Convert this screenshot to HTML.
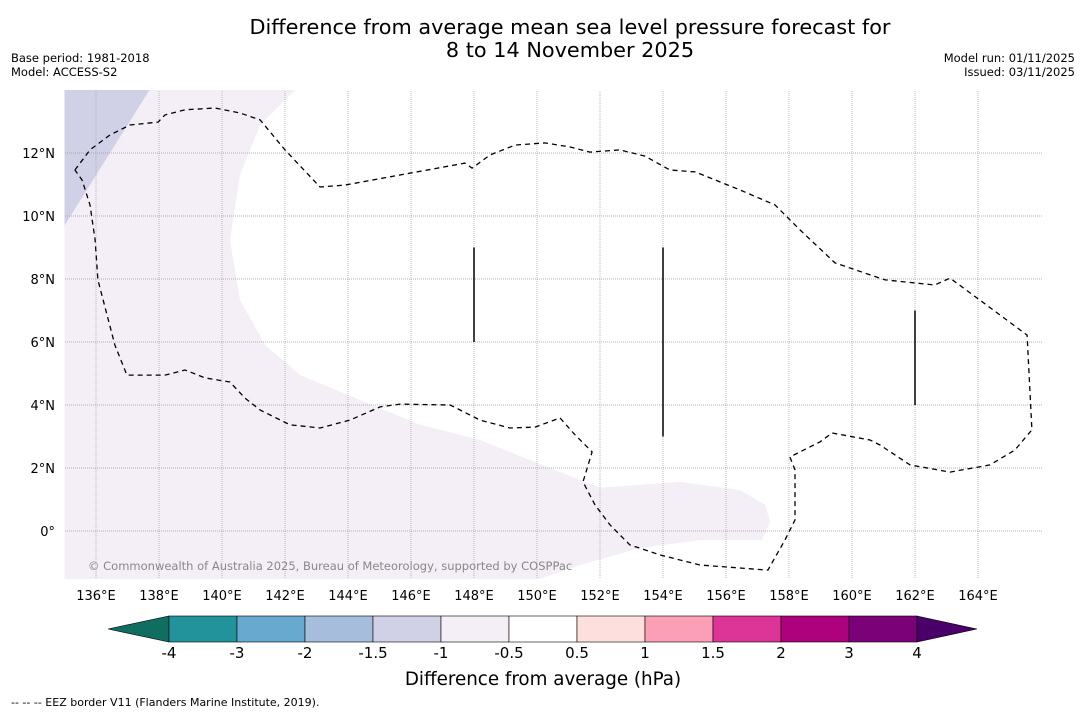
<!DOCTYPE html>
<html><head><meta charset="utf-8"><style>
body{margin:0;background:#fff;font-family:"DejaVu Sans","Liberation Sans",sans-serif;}
svg text{font-family:"DejaVu Sans","Liberation Sans",sans-serif;}
</style></head><body>
<svg id="c" width="1085" height="713" xmlns="http://www.w3.org/2000/svg">
<rect width="1085" height="713" fill="#fff"/>
<text x="570" y="34" font-size="20.8" text-anchor="middle">Difference from average mean sea level pressure forecast for</text>
<text x="570" y="57" font-size="20.8" text-anchor="middle">8 to 14 November 2025</text>
<text x="11" y="62" font-size="11.5">Base period: 1981-2018</text>
<text x="11" y="76" font-size="11.5">Model: ACCESS-S2</text>
<text x="1075" y="62" font-size="11.5" text-anchor="end">Model run: 01/11/2025</text>
<text x="1075" y="76" font-size="11.5" text-anchor="end">Issued: 03/11/2025</text>
<g id="map"></g>
<g id="cbar"></g>
<text x="543" y="685" font-size="18.3" text-anchor="middle">Difference from average (hPa)</text>
<text x="11" y="706" font-size="11">--  --  -- EEZ border V11 (Flanders Marine Institute, 2019).</text>
</svg>
<script>
const lonTicks=[136,138,140,142,144,146,148,150,152,154,156,158,160,162,164];
const latTicks=[12,10,8,6,4,2,0];
const levels=["-4","-3","-2","-1.5","-1","-0.5","0.5","1","1.5","2","3","4"];
const levelColors=["#22939a","#67a9cf","#a6bddb","#d0d1e6","#f4eef6","#ffffff","#fde0dd","#fa9fb5","#dd3497","#ae017e","#7a0177"];
const lowColor="#0f6e5f", highColor="#49006a";
const eez=[[135.33,11.46],[135.81,12.10],[136.44,12.57],[137.08,12.89],[137.97,12.98],[138.19,13.21],[138.83,13.37],[139.78,13.43],[140.57,13.27],[141.21,13.05],[142.0,12.10],[143.11,10.92],[143.90,10.98],[145.65,11.30],[147.71,11.68],[147.94,11.52],[148.51,11.94],[149.30,12.25],[150.25,12.32],[151.05,12.19],[151.68,12.03],[152.63,12.10],[153.43,11.90],[154.22,11.46],[155.02,11.40],[156.44,10.83],[157.56,10.35],[158.35,9.56],[159.46,8.51],[161.05,7.97],[162.63,7.81],[163.11,8.03],[164.06,7.33],[165.56,6.22],[165.71,3.21],[165.17,2.57],[164.38,2.10],[163.11,1.87],[161.84,2.10],[160.89,2.73],[160.57,2.89],[159.37,3.11],[158.98,2.83],[158.03,2.35],[158.19,1.94],[158.19,0.35],[157.87,-0.29],[157.33,-1.24],[155.17,-1.08],[153.90,-0.76],[152.95,-0.44],[152.32,0.19],[151.84,0.83],[151.46,1.56],[151.75,2.51],[151.21,3.05],[150.73,3.59],[149.94,3.30],[149.14,3.27],[148.19,3.52],[147.56,3.84],[147.24,4.0],[145.65,4.03],[145.02,3.94],[144.06,3.52],[143.11,3.27],[142.16,3.37],[141.21,3.84],[140.73,4.22],[140.25,4.73],[139.46,4.86],[138.83,5.11],[138.19,4.95],[136.98,4.95],[136.60,5.90],[136.06,7.97],[135.97,9.24],[135.81,10.35],[135.56,11.14],[135.33,11.46]];
const lavender=[[142.32,14],[141.21,12.89],[140.57,11.30],[140.25,9.24],[140.57,7.33],[141.37,5.90],[142.48,4.95],[144.38,4.16],[146.29,3.37],[148.19,2.89],[149.78,2.25],[151.37,1.62],[152.0,1.37],[154.54,1.56],[156.44,1.30],[157.24,0.83],[157.40,0.29],[157.14,-0.29],[155.17,-0.29],[153.27,-0.54],[151.37,-1.08],[150.1,-1.52],[135,-1.52],[135,14]];
const darkCorner=[[135,14],[137.7,14],[135,9.7]];
const segs=[[148,6,9],[154,3,9],[162,4,7]];
const NS="http://www.w3.org/2000/svg";
const X0=64.5,Y0=531,K=31.5;
const px=l=>X0+(l-135)*K, py=l=>Y0-l*K;
const map=document.getElementById('map');
function mk(t,a,p){const e=document.createElementNS(NS,t);for(const k in a)e.setAttribute(k,a[k]);p.appendChild(e);return e;}
const pts=a=>a.map(p=>px(p[0]).toFixed(1)+','+py(p[1]).toFixed(1)).join(' ');
let e=mk('polygon',{points:pts(lavender),fill:levelColors[4]},map);


e=mk('polygon',{points:pts(darkCorner),fill:levelColors[3]},map);


lonTicks.forEach(l=>{const g=mk('line',{x1:px(l),x2:px(l),y1:91,y2:579,stroke:'#aaa','stroke-width':0.8,'stroke-dasharray':'1,1'},map);


const t=mk('text',{x:px(l),y:600,'font-size':13,'text-anchor':'middle'},map);t.textContent=l+'°E';

});
latTicks.forEach(l=>{const g=mk('line',{x1:65,x2:1042,y1:py(l),y2:py(l),stroke:'#999','stroke-width':0.8,'stroke-dasharray':'1,1'},map);


const t=mk('text',{x:55,y:py(l)+5,'font-size':13,'text-anchor':'end'},map);t.textContent=l===0?'0°':l+'°N';

});
e=mk('polyline',{points:pts(eez),fill:'none',stroke:'#000','stroke-width':1.3,'stroke-dasharray':'5,4'},map);


segs.forEach(s=>{const l=mk('line',{x1:px(s[0]),x2:px(s[0]),y1:py(s[2]),y2:py(s[1]),stroke:'#000','stroke-width':1.5},map);

});
const ct=mk('text',{x:88,y:570,'font-size':11.5,fill:'#888'},map);ct.textContent='© Commonwealth of Australia 2025, Bureau of Meteorology, supported by COSPPac';


const cb=document.getElementById('cbar');
const L=169,W=68,T=616,H=26;
e=mk('polygon',{points:`108,${T+H/2} ${L},${T} ${L},${T+H}`,fill:lowColor,stroke:'#000','stroke-width':0.6},cb);


levelColors.forEach((c,i)=>{const r=mk('rect',{x:L+i*W,y:T,width:W,height:H,fill:c,stroke:'#000','stroke-width':0.6},cb);

});
const R=L+levelColors.length*W;
e=mk('polygon',{points:`${R},${T} ${R+60},${T+H/2} ${R},${T+H}`,fill:highColor,stroke:'#000','stroke-width':0.6},cb);


levels.forEach((v,i)=>{const t=mk('text',{x:L+i*W,y:658,'font-size':15,'text-anchor':'middle'},cb);t.textContent=v;

});
</script>
</body></html>
